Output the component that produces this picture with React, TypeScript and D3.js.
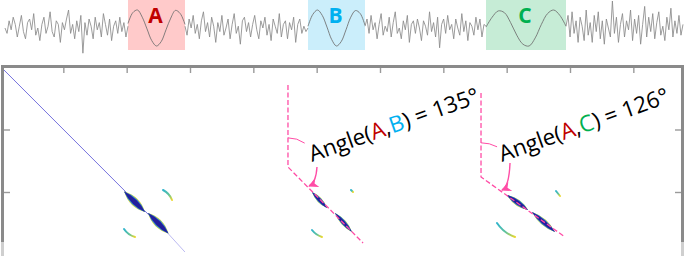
import React, { useEffect, useRef } from 'react';
import * as d3 from 'd3';

// ---- signal strip (time units) ----
const segmentBounds = [0, 123, 180, 303, 360, 481, 561, 678];

const noise1 = [0.0, -0.3, 0.4, -0.1, 0.6, 0.2, -0.5, 0.1, 0.7, -0.2, -0.6, 0.3, 0.5, -0.1, 0.8, -0.4, 0.0, -0.7, 0.2, 0.6, -0.3, 0.1, 0.9, -0.2, -0.5, 0.4, 0.2, -0.8, 0.3, -0.1, 0.5, 1.0, -0.3, 0.2, -0.6, 0.4, -0.2, 0.7, -1.4, 0.3, -0.4, 0.5, 0.1, -0.6, 0.6, -0.1, 0.3, -0.5, 0.8, 0.2, -0.4, 0.5, -0.7, 0.1, 0.4, -0.3, 0.6, -0.2, 0.3, -0.5, 0.1];
const noise2 = [0.1, -0.4, 0.5, 0.0, 0.7, -0.3, 0.2, -0.6, 0.4, 0.9, -0.2, 0.3, -0.5, 0.6, 0.1, -0.8, 0.3, -0.2, 0.7, -0.4, 0.0, 0.5, -0.6, 0.2, 0.8, -0.3, 0.1, -0.9, 0.4, 0.6, -0.2, 0.3, -0.5, 0.2, 0.7, -0.1, -0.6, 0.4, 0.0, 0.6, -0.4, 0.2, -0.7, 0.5, 0.1, -0.3, 0.8, -0.5, 0.2, 0.4, -0.6, 0.3, -0.1, 0.6, -0.8, 0.2, 0.5, -0.3, 0.1, -0.2, 0.0];
const noise3 = [0.1, 0.5, -0.3, 0.7, -0.1, 0.3, -0.6, 0.2, 0.8, -0.4, 0.1, -0.2, 0.6, -0.5, 0.3, 0.9, -0.3, 0.0, -0.6, 0.4, -0.1, 0.7, -0.8, 0.2, 0.4, -0.3, 0.5, 0.0, -0.7, 0.4, 0.1, -0.4, 0.9, -0.2, 0.3, -0.5, 0.6, -1.1, 0.2, 0.5, -0.3, 0.7, -0.1, 0.2, -0.6, 0.5, 0.0, -0.4, 0.8, -0.2, 0.4, -0.7, 0.3, 0.1, -0.4, 0.6, -0.1, 0.5, -0.5, 0.2, 0.1];
const noise4 = [0.1, 0.7, -0.5, 0.9, -0.3, 0.4, -0.8, 0.6, 0.1, -0.7, 1.0, -0.4, 0.3, -0.8, 0.7, -0.2, 0.9, -0.6, 0.4, -0.9, 0.5, 0.0, -0.5, 1.5, -0.3, 0.6, -0.8, 0.2, 0.8, -0.5, 0.4, -0.1, 1.0, -0.7, 0.5, -0.3, 0.7, -0.9, 0.2, 1.2, -0.5, 0.6, -0.2, 0.8, -0.6, 0.3, 0.9, -0.4, 0.1, -0.7, 0.6, -0.1, 1.1, -0.5, 0.4, -0.3, 0.7, -0.4, 0.2];

const sineA = [0.25, 0.85, 1.0, 0.6, -0.05, -0.7, -1.0, -0.75, -0.1, 0.55, 0.98, 0.8, 0.2];
const sineB = [0.1, 0.75, 1.0, 0.7, 0.05, -0.65, -1.0, -0.75, -0.1, 0.6, 0.97, 0.8, 0.15];
const sineC = [0.05, 0.6, 0.95, 0.85, 0.3, -0.4, -0.9, -1.0, -0.55, 0.2, 0.8, 1.0, 0.7, 0.1];

const boxLabels = ['A', 'B', 'C'];
const boxFill = ['#ffcaca', '#cbeefb', '#c6ecd6'];
const boxInk = ['#c00000', '#00b0f0', '#00b050'];

// ---- recurrence panel (plot units) ----
const xTicks = [100, 200, 300, 400, 500, 600, 700, 800, 900, 1000];
const yTicks = [100, 200];

const diagHead = [[4.7, 3.2], [260, 262]];
const diagTail = [[265, 266], [292, 296]];

// [x1, y1, x2, y2, spread]
const blobs = [
  [196, 199, 229, 232, 6.4],
  [233.7, 233.6, 266, 266.4, 6.4],
  [492.6, 200, 516.3, 225.6, 4.0],
  [529, 233.6, 555.8, 264, 4.2],
  [800.5, 204.8, 833.7, 228.8, 5.0],
  [840, 232, 876.3, 264, 5.0],
];

// [x1, y1, x2, y2, bend]
const crescents = [
  [257.4, 196.8, 271.6, 212.8, -4],
  [195.8, 259.2, 213.2, 272, 4],
  [554.2, 196.8, 557.4, 200, 0],
  [492.6, 260.8, 508.4, 272, 3],
  [877.9, 198.4, 884.2, 206.4, 0],
  [784.7, 249.6, 813.2, 272, 6],
];

const guideTops = [[454.7, 28.8], [759.5, 41.6]];
const guideCorners = [[454.7, 160], [759.5, 176]];
const guideEnds = [[573.2, 281.6], [892.1, 272]];
const arcRadius = [46, 54];
const arcSweep = [35, 28];
const arrowFrom = [[500.5, 160], [805.3, 153.6]];
const arrowTo = [[488, 190.4], [792.6, 196.8]];
const labelAt = [[492.6, 152], [792.6, 152]];
const partner = [1, 2];
const angles = [135, 126];

const PINK = '#ff4da6';

function App() {
  const ref = useRef<SVGSVGElement | null>(null);

  useEffect(() => {
    const svg = d3.select(ref.current);
    svg.selectAll('*').remove();
    const H = 256;

    // signal strip
    const tx = d3.scaleLinear().domain([0, 678]).range([5, 683]);
    const sy = d3.scaleLinear().domain([-1, 1]).range([46, 10]);

    const top = svg.append('g');
    boxLabels.forEach((lab, i) => {
      const a = segmentBounds[2 * i + 1],
        b = segmentBounds[2 * i + 2];
      top
        .append('rect')
        .attr('x', tx(a))
        .attr('y', 0)
        .attr('width', tx(b) - tx(a))
        .attr('height', 50)
        .attr('fill', boxFill[i]);
    });

    const series = [noise1, sineA, noise2, sineB, noise3, sineC, noise4];
    series.forEach((vals, k) => {
      const a = segmentBounds[k],
        b = segmentBounds[k + 1];
      const step = (b - a) / (vals.length - 1);
      const pts = vals.map((v, i) => [a + i * step, v] as [number, number]);
      const line = d3
        .line<[number, number]>()
        .x(d => tx(d[0]))
        .y(d => sy(d[1]))
        .curve(k % 2 === 1 ? d3.curveCatmullRom : d3.curveLinear);
      top
        .append('path')
        .attr('d', line(pts))
        .attr('fill', 'none')
        .attr('stroke', k % 2 === 1 ? '#6e6e6e' : '#8a8a8a')
        .attr('stroke-width', 0.85);
    });

    boxLabels.forEach((lab, i) => {
      const a = segmentBounds[2 * i + 1],
        b = segmentBounds[2 * i + 2];
      top
        .append('text')
        .attr('x', (tx(a) + tx(b)) / 2 - 1)
        .attr('y', 23)
        .attr('text-anchor', 'middle')
        .attr('font-family', 'Open Sans')
        .attr('font-weight', 'bold')
        .attr('font-size', 21)
        .attr('fill', boxInk[i])
        .text(lab);
    });

    // recurrence panel
    const x = d3.scaleLinear().domain([0, 1080]).range([0, 684]);
    const y = d3.scaleLinear().domain([0, 300]).range([67, 254.5]);
    const unit = x(1) - x(0);
    const P = (p: number[]) => [x(p[0]), y(p[1])];
    const g = svg.append('g');

    const defs = svg.append('defs');
    defs
      .append('marker')
      .attr('id', 'head')
      .attr('viewBox', '0 0 10 10')
      .attr('refX', 9)
      .attr('refY', 5)
      .attr('markerWidth', 11)
      .attr('markerHeight', 10)
      .attr('markerUnits', 'userSpaceOnUse')
      .attr('orient', 'auto')
      .append('path')
      .attr('d', 'M0,0L10,5L0,10L3,5Z')
      .attr('fill', PINK);

    // panel 1 diagonal
    const seg = d3
      .line<number[]>()
      .x(d => x(d[0]))
      .y(d => y(d[1]));
    g.append('path')
      .attr('d', seg(diagHead))
      .attr('stroke', '#7672de')
      .attr('stroke-width', 1)
      .attr('fill', 'none');
    g.append('path')
      .attr('d', seg(diagTail))
      .attr('stroke', '#bcbaf2')
      .attr('stroke-width', 1)
      .attr('fill', 'none');

    // blobs
    const lens = (a: number[], b: number[], w: number) => {
      const mx = (a[0] + b[0]) / 2,
        my = (a[1] + b[1]) / 2;
      const dx = b[0] - a[0],
        dy = b[1] - a[1];
      const len = Math.hypot(dx, dy);
      const nx = -dy / len,
        ny = dx / len;
      return `M${a[0]},${a[1]}Q${mx + nx * 2 * w},${my + ny * 2 * w} ${b[0]},${b[1]}Q${mx - nx * 2 * w},${my - ny * 2 * w} ${a[0]},${a[1]}Z`;
    };
    const layers = [
      [1.0, '#e3d43a'],
      [0.88, '#58c0a8'],
      [0.76, '#2f63d8'],
      [0.6, '#24209a'],
    ];
    blobs.forEach(b => {
      const a = P([b[0], b[1]]),
        c = P([b[2], b[3]]);
      layers.forEach(([f, col]) => {
        g.append('path')
          .attr('d', lens(a, c, b[4] * unit * (f as number)))
          .attr('fill', col as string);
      });
    });

    // crescents
    crescents.forEach((c, i) => {
      const a = P([c[0], c[1]]),
        b = P([c[2], c[3]]);
      const gid = 'cg' + i;
      const grad = defs
        .append('linearGradient')
        .attr('id', gid)
        .attr('gradientUnits', 'userSpaceOnUse')
        .attr('x1', a[0])
        .attr('y1', a[1])
        .attr('x2', b[0])
        .attr('y2', b[1]);
      grad.append('stop').attr('offset', 0).attr('stop-color', '#2fb4cc');
      grad.append('stop').attr('offset', 0.55).attr('stop-color', '#62c39a');
      grad.append('stop').attr('offset', 1).attr('stop-color', '#ecd82e');
      const mx = (a[0] + b[0]) / 2,
        my = (a[1] + b[1]) / 2;
      const dx = b[0] - a[0],
        dy = b[1] - a[1];
      const len = Math.hypot(dx, dy);
      const k = c[4] * unit;
      g.append('path')
        .attr('d', `M${a[0]},${a[1]}Q${mx - (dy / len) * k},${my + (dx / len) * k} ${b[0]},${b[1]}`)
        .attr('fill', 'none')
        .attr('stroke', `url(#${gid})`)
        .attr('stroke-width', 2)
        .attr('stroke-linecap', 'round');
    });

    // angle guides
    guideCorners.forEach((corner, i) => {
      const c = P(corner);
      g.append('path')
        .attr('d', seg([guideTops[i], corner, guideEnds[i]]))
        .attr('fill', 'none')
        .attr('stroke', PINK)
        .attr('stroke-width', 1.3)
        .attr('stroke-dasharray', '5,2.5');

      const r = arcRadius[i] * unit;
      const p = d3.path();
      p.moveTo(c[0], c[1] - r);
      p.arc(c[0], c[1], r, -Math.PI / 2, -Math.PI / 2 + (arcSweep[i] * Math.PI) / 180);
      g.append('path')
        .attr('d', p.toString())
        .attr('fill', 'none')
        .attr('stroke', PINK)
        .attr('stroke-width', 1);

      const s = P(arrowFrom[i]),
        e = P(arrowTo[i]);
      g.append('path')
        .attr('d', `M${s[0]},${s[1]}Q${s[0] - 1},${e[1] - 3} ${e[0]},${e[1]}`)
        .attr('fill', 'none')
        .attr('stroke', PINK)
        .attr('stroke-width', 1.4)
        .attr('marker-end', 'url(#head)');

      const t = P(labelAt[i]);
      const txt = g
        .append('text')
        .attr('x', t[0])
        .attr('y', t[1])
        .attr('transform', `rotate(-19.5,${t[0]},${t[1]})`)
        .attr('font-family', 'Open Sans')
        .attr('font-size', 22.5)
        .attr('fill', '#000');
      txt.append('tspan').text('Angle(');
      txt.append('tspan').attr('fill', boxInk[0]).text(boxLabels[0]);
      txt.append('tspan').text(',');
      txt.append('tspan').attr('fill', boxInk[partner[i]]).text(boxLabels[partner[i]]);
      txt.append('tspan').text(`) = ${angles[i]}°`);
    });

    // frame and ticks
    const frame = svg.append('g');
    frame
      .append('g')
      .attr('transform', 'translate(0,68)')
      .call(d3.axisBottom(x).tickValues(xTicks).tickSize(5).tickFormat(() => ''));
    frame
      .append('g')
      .attr('transform', 'translate(4,0)')
      .call(d3.axisRight(y).tickValues(yTicks).tickSize(6).tickFormat(() => ''));
    frame
      .append('g')
      .attr('transform', 'translate(681,0)')
      .call(d3.axisLeft(y).tickValues(yTicks).tickSize(6).tickFormat(() => ''));
    frame.selectAll('.domain').remove();
    frame.selectAll('.tick line').attr('stroke', '#9a9a9a').attr('stroke-width', 1.4);

    frame.append('rect').attr('x', 1).attr('y', 65).attr('width', 683).attr('height', 3).attr('fill', '#8a8a8a');
    frame.append('rect').attr('x', 1).attr('y', 65).attr('width', 3).attr('height', H - 65 - 14).attr('fill', '#8a8a8a');
    frame.append('rect').attr('x', 681).attr('y', 65).attr('width', 3).attr('height', H - 65 - 14).attr('fill', '#8a8a8a');
    frame.append('rect').attr('x', 1).attr('y', H - 14).attr('width', 3).attr('height', 14).attr('fill', '#cfcfcf');
    frame.append('rect').attr('x', 681).attr('y', H - 14).attr('width', 3).attr('height', 14).attr('fill', '#cfcfcf');
  }, []);

  return (
    <svg
      ref={ref}
      width={685}
      height={256}
      style={{ position: 'absolute', left: 0, top: 0, background: '#fff' }}
    />
  );
}

export default App;
